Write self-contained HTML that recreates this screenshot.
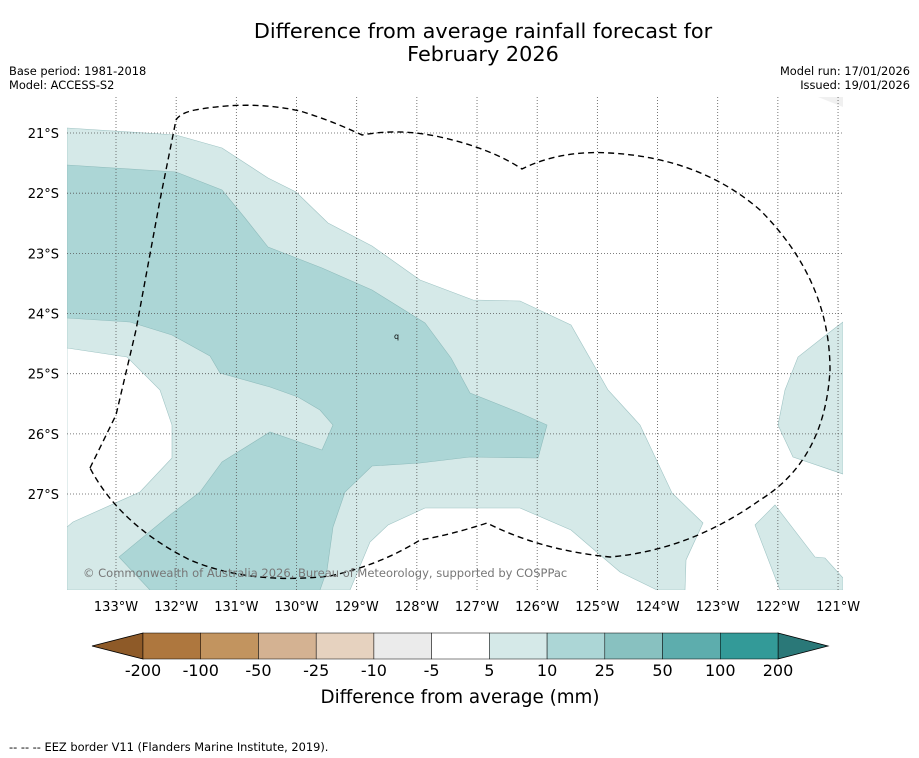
<!DOCTYPE html>
<html><head><meta charset="utf-8"><style>
body{margin:0;background:#fff;font-family:"Liberation Sans","DejaVu Sans",sans-serif}
svg{display:block}
</style></head><body>
<svg width="919" height="758" xmlns="http://www.w3.org/2000/svg" font-family="'DejaVu Sans','Liberation Sans',sans-serif">
<rect width="919" height="758" fill="#fff"/>
<text x="483" y="38" font-size="20.8" text-anchor="middle">Difference from average rainfall forecast for</text>
<text x="483" y="61" font-size="20.8" text-anchor="middle">February 2026</text>
<text x="9" y="75" font-size="11.4">Base period: 1981-2018</text>
<text x="9" y="89" font-size="11.4">Model: ACCESS-S2</text>
<text x="910" y="75" font-size="11.4" text-anchor="end">Model run: 17/01/2026</text>
<text x="910" y="89" font-size="11.4" text-anchor="end">Issued: 19/01/2026</text>
<g id="map">
<clipPath id="mc"><rect x="67" y="97" width="776" height="493"/></clipPath>
<g clip-path="url(#mc)">
<polygon fill="#d5e9e8" stroke="#9fc4c4" stroke-width="0.6" points="67,128 176,135 222,148 268,178 296,192 328,223 372,246 420,280 473,300 520,301 571,325 608,390 640,425 672,493 703,523 686,560 685,590 657,590 620,572 571,530 520,508 425,508 388,525 370,542 350,590 67,590"/>
<polygon fill="#fff" stroke="#9fc4c4" stroke-width="0.6" points="67,348 127,357 160,390 172,425 172,458 140,492 73,522 67,527"/>
<polygon fill="#acd6d6" stroke="#8fbcbc" stroke-width="0.6" points="67,165 176,172 222,190 245,218 268,247 322,268 372,290 425,323 451,358 470,393 520,413 547,425 538,458 470,457 420,463 372,466 345,492 333,527 327,570 320,590 150,590 119,557 170,515 200,492 222,462 270,432 322,450 333,425 320,410 298,397 270,387 220,373 210,356 172,335 130,322 67,318"/>
<polygon fill="#d5e9e8" stroke="#9fc4c4" stroke-width="0.6" points="843,322 826,335 798,357 785,390 778,425 793,457 843,474"/>
<polygon fill="#d5e9e8" stroke="#9fc4c4" stroke-width="0.6" points="755,525 775,505 815,557 825,558 843,578 843,590 780,590"/>
<polygon fill="#f0f0f0" points="818,97 843,97 843,107"/>
</g>
<g id="grid"></g>
<path fill="none" stroke="#000" stroke-width="1.4" stroke-dasharray="6,4" stroke-linejoin="round" d="M90,468 L116,415 L136,330 L160,200 L176,120 Q180,113 195,110 Q250,100 300,111 Q330,120 362,135 Q400,128 440,137 Q490,148 522,169 Q560,150 610,153 Q700,158 760,210 Q830,280 830,370 Q825,460 760,500 Q690,550 610,557 Q540,550 487,523 Q450,535 420,540 Q380,565 330,576 Q250,585 190,560 Q120,525 90,468"/>
<text x="83" y="577" font-size="11.5" fill="#777">© Commonwealth of Australia 2026, Bureau of Meteorology, supported by COSPPac</text>
<text x="394" y="339" font-size="8">q</text>
</g>
<g id="cbar"></g>
<text x="460" y="703" font-size="18.3" text-anchor="middle">Difference from average (mm)</text>
<text x="9" y="751" font-size="11.4">--  --  -- EEZ border V11 (Flanders Marine Institute, 2019).</text>
</svg>
<script>
const lonTicks=[133,132,131,130,129,128,127,126,125,124,123,122,121];
const latTicks=[21,22,23,24,25,26,27];
const cbarLabels=["-200","-100","-50","-25","-10","-5","5","10","25","50","100","200"];
const cbarColors=["#ae773e","#c2945f","#d4b292","#e6d2bf","#ebebeb","#ffffff","#d5e9e8","#acd6d6","#88c1c0","#5dadad","#339a98"];
const NS="http://www.w3.org/2000/svg";
const xLon=l=>116+(133-l)*60.17;
const yLat=l=>133+(l-21)*60.17;
const g=document.getElementById('grid');
function mk(t,a,p){const e=document.createElementNS(NS,t);for(const k in a)e.setAttribute(k,a[k]);p.appendChild(e);return e;}
lonTicks.forEach(l=>{const x=xLon(l);
const ln=mk('line',{x1:x,x2:x,y1:97,y2:590,stroke:'#555','stroke-width':0.8,'stroke-dasharray':'1,2'},g);


const t=mk('text',{x:x,y:611,'font-size':13,'text-anchor':'middle'},g);t.textContent=l+'°W';

});
latTicks.forEach(l=>{const y=yLat(l);
const ln=mk('line',{x1:67,x2:843,y1:y,y2:y,stroke:'#555','stroke-width':0.8,'stroke-dasharray':'1,2'},g);


const t=mk('text',{x:59,y:y+5,'font-size':13,'text-anchor':'end'},g);t.textContent=l+'°S';

});
const cb=document.getElementById('cbar');
const x0=143,x1=778,y0=633,y1=659,w=(x1-x0)/cbarColors.length;
const lt=mk('polygon',{points:`${x0},${y0} 92,${(y0+y1)/2} ${x0},${y1}`,fill:'#8e5a28',stroke:'#000','stroke-width':0.8},cb);


const rt=mk('polygon',{points:`${x1},${y0} 828,${(y0+y1)/2} ${x1},${y1}`,fill:'#2a7878',stroke:'#000','stroke-width':0.8},cb);


cbarColors.forEach((c,i)=>{const r=mk('rect',{x:x0+i*w,y:y0,width:w,height:y1-y0,fill:c,stroke:'#000','stroke-width':0.5},cb);

});
cbarLabels.forEach((s,i)=>{const t=mk('text',{x:x0+i*w,y:676,'font-size':16,'text-anchor':'middle'},cb);t.textContent=s;

});
</script>
</body></html>
